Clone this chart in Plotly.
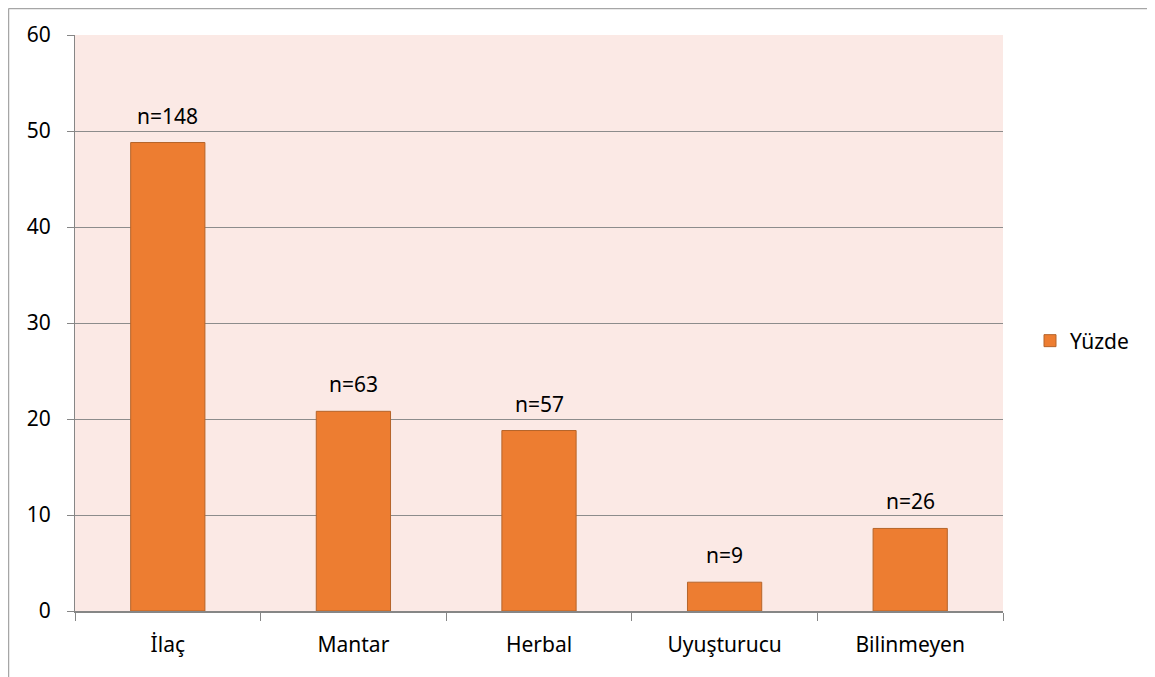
import plotly.graph_objects as go

categories = ["İlaç", "Mantar", "Herbal", "Uyuşturucu", "Bilinmeyen"]
counts = [148, 63, 57, 9, 26]
percent = [48.8, 20.8, 18.8, 3.0, 8.6]
labels = [f"n={c}" for c in counts]
y_ticks = [0, 10, 20, 30, 40, 50, 60]

# page has 8px body margin; work in page pixel coordinates
OFF = 8
W, H = 1155, 677
PL, PR, PT, PB = 75, 1003, 35, 611
pw, ph = PR - PL, PB - PT

def px_x(p):
    return (p - PL) / pw

def px_y(p):
    return (PB - p) / ph

font = "Noto Sans, Open Sans, sans-serif"
FS = 21

fig = go.Figure()
fig.add_trace(go.Bar(
    x=categories, y=percent, name="Yüzde",
    marker=dict(color="#ED7D31", line=dict(color="#B5642A", width=1)),
    width=0.4,
))
for c, v, t in zip(categories, percent, labels):
    fig.add_annotation(x=c, y=v, text=t, showarrow=False, yanchor="bottom",
                       yshift=11, font=dict(size=FS, color="#000000", family=font))

fig.update_layout(
    width=W - OFF, height=H - OFF,
    margin=dict(l=PL - OFF, r=W - PR, t=PT - OFF, b=H - PB),
    paper_bgcolor="white", plot_bgcolor="#FBE9E5",
    font=dict(family=font, size=FS, color="#000000"),
    showlegend=True,
    legend=dict(x=px_x(1030), y=px_y(341), xanchor="left", yanchor="middle",
                font=dict(size=FS, family=font), bgcolor="rgba(0,0,0,0)",
                itemwidth=30),
    xaxis=dict(showline=True, linecolor="#868686", linewidth=2,
               ticks="outside", ticklen=8, tickcolor="#868686", tickwidth=1,
               tickson="boundaries", showgrid=False,
               tickfont=dict(size=FS), mirror=False, ticklabelstandoff=14),
    yaxis=dict(range=[0, 60], tickvals=y_ticks, showline=True, linecolor="#868686",
               linewidth=1, ticks="outside", ticklen=7, tickcolor="#868686",
               showgrid=True, gridcolor="#8C8C8C", gridwidth=1, zeroline=False,
               tickfont=dict(size=FS), ticklabelstandoff=12),
    shapes=[
        dict(type="line", xref="paper", yref="paper", x0=px_x(8.5), x1=px_x(1160),
             y0=px_y(8.5), y1=px_y(8.5), line=dict(color="#A6A6A6", width=1.5)),
        dict(type="line", xref="paper", yref="paper", x0=px_x(8.5), x1=px_x(8.5),
             y0=px_y(8.5), y1=px_y(690), line=dict(color="#A6A6A6", width=1.5)),
    ],
)

fig.write_html("out.html")
